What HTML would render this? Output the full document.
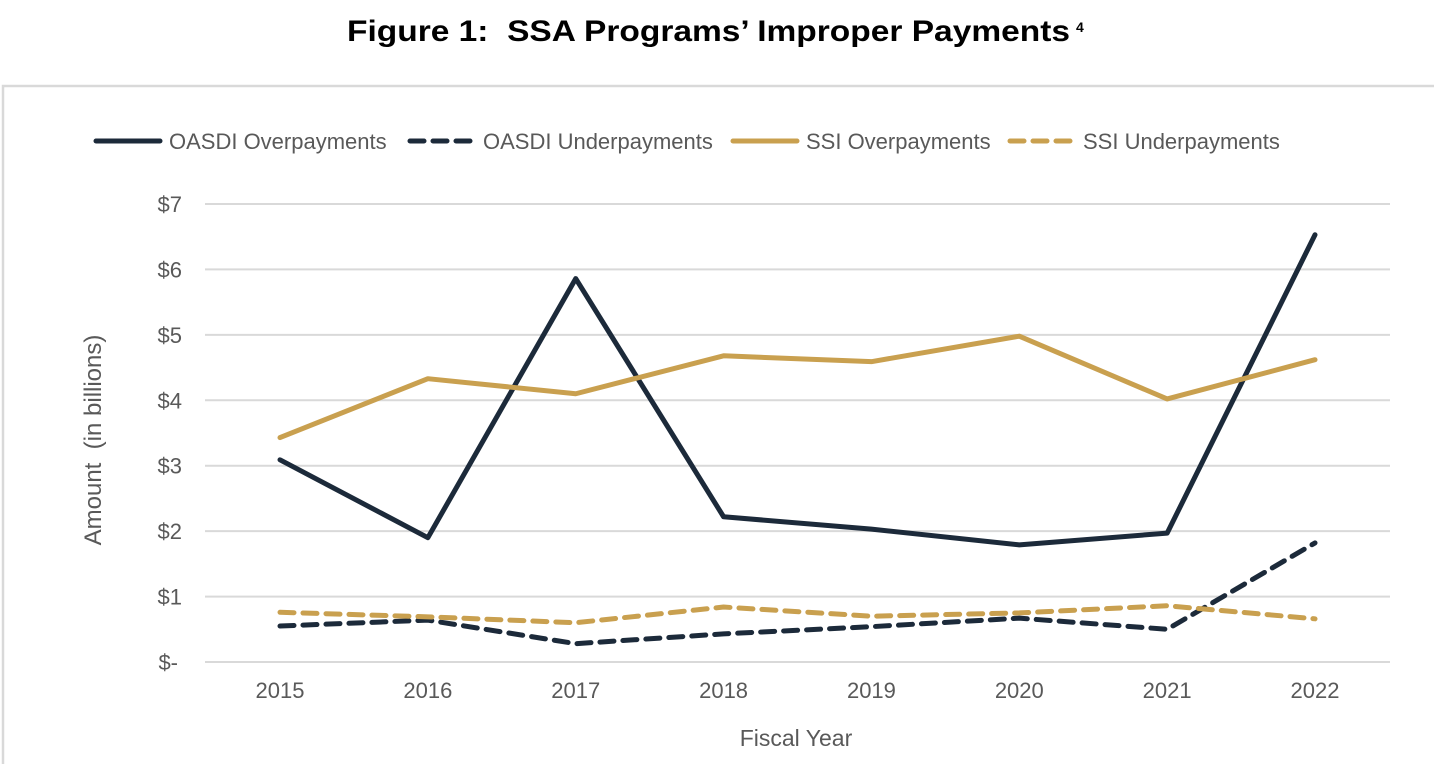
<!DOCTYPE html>
<html><head><meta charset="utf-8"><style>
body{margin:0;background:#fff;width:1434px;height:764px;overflow:hidden;font-family:"Liberation Sans",Arial,sans-serif}
</style></head><body>
<svg width="1434" height="764" xmlns="http://www.w3.org/2000/svg" font-family="Liberation Sans, Arial, sans-serif">
<text x="347" y="41" font-size="30" font-weight="bold" fill="#000" textLength="723" lengthAdjust="spacingAndGlyphs">Figure 1:&#160; SSA Programs’ Improper Payments</text>
<text x="1076" y="32" font-size="14" font-weight="bold" fill="#000">4</text>
<rect x="3" y="86" width="1440" height="700" fill="none" stroke="#d9d9d9" stroke-width="2.5"/>
<g id="grid"></g>
<g id="ylabels" font-size="22" fill="#595959"></g>
<g id="xlabels" font-size="22" fill="#595959"></g>
<g id="series"></g>
<text x="101" y="440" transform="rotate(-90 101 440)" text-anchor="middle" font-size="24" fill="#595959">Amount&#160; (in billions)</text>
<text x="796" y="746" text-anchor="middle" font-size="23" fill="#595959">Fiscal Year</text>
<g id="legend" font-size="22" fill="#595959"></g>
</svg>
<script>
const years=["2015","2016","2017","2018","2019","2020","2021","2022"];
const oasdiOver=[3.09,1.90,5.86,2.22,2.03,1.79,1.97,6.53];
const oasdiUnder=[0.55,0.64,0.28,0.43,0.54,0.67,0.50,1.82];
const ssiOver=[3.43,4.33,4.10,4.68,4.59,4.98,4.02,4.62];
const ssiUnder=[0.76,0.69,0.60,0.84,0.70,0.75,0.86,0.66];
const yTicks=["$-","$1","$2","$3","$4","$5","$6","$7"];
const NS="http://www.w3.org/2000/svg";
const y0=662,pxPer=65.43,x0=280,xStep=147.86;
const yS=v=>y0-v*pxPer, xS=i=>x0+i*xStep;
function mk(t,a,p){const e=document.createElementNS(NS,t);for(const k in a)e.setAttribute(k,a[k]);p.appendChild(e);return e;}
const grid=document.getElementById('grid'),yl=document.getElementById('ylabels'),xl=document.getElementById('xlabels');
yTicks.forEach((t,i)=>{
 const l=mk('line',{x1:205,x2:1390,y1:yS(i),y2:yS(i),stroke:'#d9d9d9','stroke-width':2},grid);
 
 
 const tx=mk('text',{x:i==0?178:182,y:yS(i)+8,'text-anchor':'end'},yl);tx.textContent=t;
 
 
});
years.forEach((y,i)=>{
 const tx=mk('text',{x:xS(i),y:698,'text-anchor':'middle'},xl);tx.textContent=y;
 
 
});
const sers=[["oasdi-overpayments",oasdiOver,"#1c2a3a",null,"OASDI Overpayments",96],
["oasdi-underpayments",oasdiUnder,"#1c2a3a","14 9","OASDI Underpayments",410],
["ssi-overpayments",ssiOver,"#c9a04f",null,"SSI Overpayments",733],
["ssi-underpayments",ssiUnder,"#c9a04f","14 9","SSI Underpayments",1010]];
const sg=document.getElementById('series'),lg=document.getElementById('legend');
sers.forEach(s=>{
 const pts=s[1].map((v,i)=>xS(i)+','+yS(v)).join(' ');
 const a={points:pts,fill:'none',stroke:s[2],'stroke-width':5,'stroke-linejoin':'round','stroke-linecap':'round'};
 if(s[3])a['stroke-dasharray']=s[3];
 const p=mk('polyline',a,sg);
 
 
 const la={x1:s[5],x2:s[5]+64,y1:141,y2:141,stroke:s[2],'stroke-width':5,'stroke-linecap':'round'};
 if(s[3])la['stroke-dasharray']=s[3];
 const ll=mk('line',la,lg);
 
 
 const t=mk('text',{x:s[5]+73,y:149},lg);t.textContent=s[4];
 
 
});
</script>
</body></html>
